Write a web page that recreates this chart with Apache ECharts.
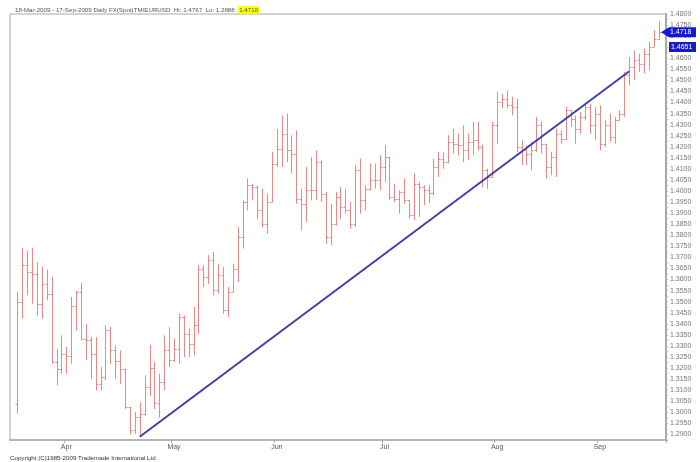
<!DOCTYPE html>
<html>
<head>
<meta charset="utf-8">
<script src="https://cdn.jsdelivr.net/npm/echarts@6/dist/echarts.min.js"></script>
<style>html,body{margin:0;padding:0;background:#fff;}#c{width:700px;height:462px;}</style>
</head>
<body>
<div id="c"></div>
<script>
// Trading days 2009-03-18 .. 2009-09-17 (weekdays)
var startDate = '2009-03-18', endDate = '2009-09-17';
var monthNames = ['Jan','Feb','Mar','Apr','May','Jun','Jul','Aug','Sep','Oct','Nov','Dec'];

var opens = [
1.3039,1.3498,1.3664,1.3634,1.3626,1.3491,1.3581,1.3536,1.3228,1.3197,
1.3265,1.3253,1.3479,1.3544,1.3333,1.3325,1.3262,1.3126,1.3159,1.3370,
1.3283,1.3232,1.3197,1.3024,1.2918,1.2979,1.2994,1.3115,1.3200,1.3040,
1.3135,1.3280,1.3235,1.3287,1.3431,1.3355,1.3310,1.3393,1.3649,1.3611,
1.3687,1.3551,1.3620,1.3461,1.3544,1.3649,1.3792,1.3950,1.4026,1.4018,
1.3913,1.3853,1.3950,1.4124,1.4192,1.4259,1.4184,1.4169,1.3966,1.3943,
1.4003,1.4003,1.4131,1.3988,1.3792,1.3850,1.3973,1.3928,1.3913,1.3853,
1.4094,1.3958,1.4011,1.4048,1.4048,1.4109,1.4154,1.3973,1.3966,1.3996,
1.3958,1.3890,1.4033,1.4018,1.4003,1.3990,1.4109,1.4146,1.4130,1.4222,
1.4214,1.4207,1.4184,1.4222,1.4229,1.4200,1.4094,1.4064,1.4297,1.4403,
1.4418,1.4388,1.4380,1.4199,1.4184,1.4169,1.4184,1.4297,1.4214,1.4109,
1.4154,1.4259,1.4237,1.4365,1.4327,1.4282,1.4335,1.4380,1.4297,1.4350,
1.4214,1.4297,1.4244,1.4320,1.4350,1.4523,1.4561,1.4591,1.4576,1.4621,
1.4651,1.4689];

var highs = [
1.3544,1.3744,1.3732,1.3744,1.3679,1.3657,1.3645,1.3611,1.3287,1.3348,
1.3295,1.3521,1.3551,1.3584,1.3400,1.3340,1.3340,1.3205,1.3393,1.3385,
1.3302,1.3280,1.3197,1.3024,1.3001,1.3046,1.3167,1.3305,1.3227,1.3175,
1.3348,1.3385,1.3333,1.3446,1.3438,1.3378,1.3476,1.3664,1.3664,1.3710,
1.3725,1.3672,1.3657,1.3566,1.3672,1.3837,1.3958,1.4056,1.4033,1.4026,
1.4011,1.3988,1.4177,1.4280,1.4342,1.4350,1.4252,1.4274,1.4011,1.4109,
1.4154,1.4184,1.4139,1.3996,1.3943,1.3996,1.4018,1.4011,1.3950,1.4116,
1.4147,1.4026,1.4124,1.4124,1.4161,1.4207,1.4154,1.4033,1.4003,1.4056,
1.3960,1.4079,1.4041,1.4026,1.4026,1.4146,1.4176,1.4175,1.4252,1.4282,
1.4259,1.4297,1.4259,1.4312,1.4312,1.4210,1.4101,1.4312,1.4448,1.4440,
1.4455,1.4425,1.4418,1.4229,1.4207,1.4222,1.4335,1.4312,1.4215,1.4177,
1.4282,1.4274,1.4380,1.4365,1.4342,1.4357,1.4395,1.4395,1.4380,1.4387,
1.4320,1.4350,1.4335,1.4365,1.4538,1.4606,1.4636,1.4621,1.4644,1.4674,
1.4727,1.4767];

var lows = [
1.2994,1.3423,1.3529,1.3491,1.3438,1.3423,1.3506,1.3220,1.3122,1.3174,
1.3174,1.3220,1.3370,1.3325,1.3235,1.3152,1.3099,1.3099,1.3144,1.3220,
1.3152,1.3129,1.3016,1.2900,1.2903,1.2888,1.2985,1.3075,1.3015,1.2975,
1.3099,1.3205,1.3227,1.3220,1.3250,1.3250,1.3257,1.3355,1.3566,1.3581,
1.3529,1.3536,1.3446,1.3431,1.3544,1.3589,1.3740,1.3913,1.3958,1.3875,
1.3837,1.3807,1.3950,1.4109,1.4109,1.4131,1.4079,1.3943,1.3822,1.3860,
1.3958,1.3958,1.3950,1.3762,1.3755,1.3845,1.3875,1.3898,1.3830,1.3837,
1.3898,1.3913,1.4003,1.4011,1.4003,1.4041,1.3958,1.3950,1.3898,1.3943,
1.3875,1.3868,1.3883,1.3935,1.3945,1.3981,1.4064,1.4100,1.4125,1.4169,
1.4161,1.4131,1.4139,1.4161,1.4184,1.4018,1.4011,1.4060,1.4214,1.4373,
1.4373,1.4342,1.4176,1.4116,1.4116,1.4094,1.4176,1.4169,1.4056,1.4071,
1.4064,1.4214,1.4230,1.4290,1.4214,1.4259,1.4320,1.4259,1.4229,1.4184,
1.4199,1.4222,1.4214,1.4320,1.4335,1.4478,1.4501,1.4538,1.4531,1.4546,
1.4651,1.4685];

var closes = [
1.3498,1.3664,1.3634,1.3626,1.3491,1.3581,1.3536,1.3228,1.3197,1.3265,
1.3253,1.3479,1.3544,1.3333,1.3325,1.3262,1.3126,1.3159,1.3370,1.3283,
1.3232,1.3197,1.3024,1.2918,1.2979,1.2994,1.3115,1.3200,1.3040,1.3135,
1.3280,1.3235,1.3287,1.3431,1.3355,1.3310,1.3393,1.3649,1.3611,1.3687,
1.3551,1.3620,1.3461,1.3544,1.3649,1.3792,1.3950,1.4026,1.4018,1.3913,
1.3853,1.3950,1.4124,1.4192,1.4259,1.4184,1.4169,1.3966,1.3943,1.4003,
1.4003,1.4131,1.3988,1.3792,1.3850,1.3973,1.3928,1.3913,1.3853,1.4094,
1.3958,1.4011,1.4048,1.4048,1.4109,1.4154,1.3973,1.3966,1.3996,1.3958,
1.3890,1.4033,1.4018,1.4003,1.3990,1.4109,1.4146,1.4130,1.4222,1.4214,
1.4207,1.4184,1.4222,1.4229,1.4200,1.4094,1.4064,1.4297,1.4403,1.4418,
1.4388,1.4380,1.4199,1.4184,1.4169,1.4184,1.4297,1.4214,1.4109,1.4154,
1.4259,1.4237,1.4365,1.4327,1.4282,1.4335,1.4380,1.4297,1.4350,1.4214,
1.4297,1.4244,1.4320,1.4350,1.4523,1.4561,1.4591,1.4576,1.4621,1.4651,
1.4689,1.4718];

// Trend line (drawn on chart)
var trendDates = ['2009-04-22', '2009-09-09'];
var trendValues = [1.2890, 1.4541];

// Right-hand price markers
var lastPrice = 1.4718;
var refPrice = 1.4651;

// Title values
var hiValue = '1.4767', loValue = '1.2888';

// ---- build calendar categories ----
function pad(n){return (n<10?'0':'')+n;}
var dates = [];
(function(){
  var d = new Date(startDate + 'T00:00:00Z'), e = new Date(endDate + 'T00:00:00Z');
  while (d <= e) {
    var wd = d.getUTCDay();
    if (wd !== 0 && wd !== 6) dates.push(d.getUTCFullYear()+'-'+pad(d.getUTCMonth()+1)+'-'+pad(d.getUTCDate()));
    d = new Date(d.getTime() + 86400000);
  }
})();
var axisData = [''].concat(dates, ['']);
var monthStart = {};
for (var i = 1; i < dates.length; i++) {
  if (dates[i].slice(5,7) !== dates[i-1].slice(5,7)) monthStart[i+1] = true;
}

var ohlc = dates.map(function(d, i){ return [i+1, opens[i], closes[i], lows[i], highs[i]]; });
var barColor = '#f08585';
var markerBlue = '#1515e0';
var markerNavy = '#1a1ac8';
var gridRight = 34;

var chart = echarts.init(document.getElementById('c'));
chart.setOption({
  animation: false,
  backgroundColor: '#fff',
  title: {
    left: 10, top: 1,
    text: '{t|18-Mar-2009 - 17-Sep-2009 Daily FX(Spot)TM/EURUSD  Hi: ' + hiValue + '  Lo: ' + loValue + '  }{h|' + lastPrice.toFixed(4) + '}',
    textStyle: {
      fontWeight: 'normal',
      rich: {
        t: {fontSize: 6.2, color: '#555', fontWeight: 'normal', fontFamily: 'Liberation Sans'},
        h: {fontSize: 6.2, color: '#555', fontWeight: 'normal', fontFamily: 'Liberation Sans', backgroundColor: '#ffff00', padding: [1,1]}
      }
    }
  },
  grid: {left: 10, right: gridRight, top: 14, bottom: 22, show: true, borderColor: '#a8a8a8', borderWidth: 1},
  xAxis: {
    type: 'category', data: axisData, boundaryGap: true,
    axisLine: {show: true, lineStyle: {color: '#b5b5b5', width: 2}},
    axisTick: {show: true, interval: function(idx){ return !!monthStart[idx]; }, length: 3, lineStyle: {color: '#aaa'}},
    axisLabel: {
      interval: function(idx){ return !!monthStart[idx]; },
      formatter: function(v){ return v ? monthNames[parseInt(v.slice(5,7),10)-1] : ''; },
      fontSize: 7, color: '#555', margin: 4, fontFamily: 'Liberation Sans'
    },
    splitLine: {show: false}
  },
  yAxis: {
    type: 'value', position: 'right', min: 1.2875, max: 1.48, interval: 0.0025,
    axisLine: {show: true, lineStyle: {color: '#a8a8a8', width: 2}},
    axisTick: {show: true, length: 2, lineStyle: {color: '#bbb'}},
    splitLine: {show: false},
    axisLabel: {
      fontSize: 7, color: '#777', margin: 4, fontFamily: 'Liberation Sans',
      formatter: function(v){ var k = Math.round(v*10000); return (k % 50 === 0) ? (k/10000).toFixed(4) : ''; }
    }
  },
  series: [{
    type: 'custom',
    data: ohlc,
    encode: {x: 0, y: [1,2,3,4]},
    renderItem: function(params, api){
      var x = api.value(0);
      var pH = api.coord([x, api.value(4)]), pL = api.coord([x, api.value(3)]);
      var pO = api.coord([x, api.value(1)]), pC = api.coord([x, api.value(2)]);
      var px = Math.round(pH[0]) + 0.5;
      var st = {stroke: barColor, lineWidth: 1};
      return {type: 'group', children: [
        {type: 'line', shape: {x1: px, y1: pH[1], x2: px, y2: pL[1]}, style: st},
        {type: 'line', shape: {x1: px-2, y1: Math.round(pO[1])+0.5, x2: px, y2: Math.round(pO[1])+0.5}, style: st},
        {type: 'line', shape: {x1: px, y1: Math.round(pC[1])+0.5, x2: px+2, y2: Math.round(pC[1])+0.5}, style: st}
      ]};
    },
    z: 2
  }, {
    type: 'line',
    data: [[trendDates[0], trendValues[0]], [trendDates[1], trendValues[1]]],
    symbol: 'none',
    lineStyle: {color: '#3f3fb0', width: 2},
    z: 5
  }]
});

// Price markers on the right axis, positioned through the y scale
var edge = chart.getWidth() - gridRight;
var yLast = chart.convertToPixel({yAxisIndex: 0}, lastPrice);
var yRef = chart.convertToPixel({yAxisIndex: 0}, refPrice);
chart.setOption({
  graphic: [
    {type: 'text', left: 10, bottom: 1, z: 100,
     style: {text: 'Copyright (C)1985-2009 Trademade International Ltd', fontSize: 6.2, fill: '#333', fontFamily: 'Liberation Sans'}},
    {type: 'polygon', z: 100, shape: {points: [[edge - 5, yLast], [edge + 3, yLast - 5], [edge + 30, yLast - 5], [edge + 30, yLast + 5], [edge + 3, yLast + 5]]},
     style: {fill: markerBlue}},
    {type: 'text', z: 101, x: edge + 4, y: yLast,
     style: {text: lastPrice.toFixed(4), fill: '#fff', fontSize: 7, fontFamily: 'Liberation Sans', verticalAlign: 'middle', align: 'left'}},
    {type: 'rect', z: 100, shape: {x: edge + 3, y: yRef - 5, width: 27, height: 10},
     style: {fill: markerNavy}},
    {type: 'text', z: 101, x: edge + 5, y: yRef,
     style: {text: refPrice.toFixed(4), fill: '#fff', fontSize: 7, fontFamily: 'Liberation Sans', verticalAlign: 'middle', align: 'left'}}
  ]
});
</script>
</body>
</html>
